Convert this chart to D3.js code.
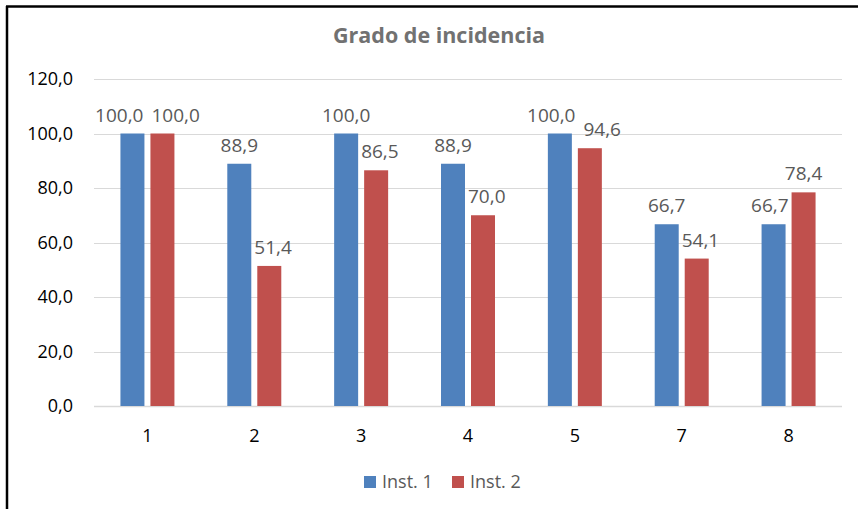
<!DOCTYPE html>
<html>
<head>
<meta charset="utf-8">
<script src="https://cdn.jsdelivr.net/npm/d3@7"></script>
<style>
  body { margin: 0; background: #fff; }
  svg { display: block; font-family: "Open Sans", sans-serif; }
</style>
</head>
<body>
<svg id="chart" width="858" height="509"></svg>
<script>
const width = 858, height = 509;
const svg = d3.select("#chart");

// data
const categories = ["1", "2", "3", "4", "5", "7", "8"];
const seriesNames = ["Inst. 1", "Inst. 2"];
const inst1 = [100.0, 88.9, 100.0, 88.9, 100.0, 66.7, 66.7];
const inst2 = [100.0, 51.4, 86.5, 70.0, 94.6, 54.1, 78.4];
const yTicks = [0, 20, 40, 60, 80, 100, 120];
const colors = ["#4F81BD", "#C0504D"];

const rows = categories.map((c, i) => ({ cat: c, values: [inst1[i], inst2[i]] }));

const fmt = v => d3.format(".1f")(v).replace(".", ",");

// frame (only left and top edges are visible in the crop)
svg.append("line").attr("x1", 7).attr("y1", 6).attr("x2", 7).attr("y2", height)
    .attr("stroke", "#000").attr("stroke-width", 2.5);
svg.append("line").attr("x1", 6).attr("y1", 6.5).attr("x2", width).attr("y2", 6.5)
    .attr("stroke", "#000").attr("stroke-width", 2.5);

// title
svg.append("text")
    .attr("x", 439).attr("y", 43)
    .attr("text-anchor", "middle")
    .attr("font-size", 21.5).attr("font-weight", "bold")
    .attr("fill", "#717171")
    .text("Grado de incidencia");

const x = d3.scaleBand().domain(categories).range([94, 842])
    .paddingInner(0.4947).paddingOuter(0.2474);
const xs = d3.scaleBand().domain(seriesNames).range([0, x.bandwidth()]).paddingInner(0.2);
const y = d3.scaleLinear().domain([0, 120]).range([406, 79]);

// gridlines
svg.append("g").selectAll("line").data(yTicks).enter().append("line")
    .attr("x1", 94).attr("x2", 842)
    .attr("y1", d => Math.round(y(d)) + 0.5).attr("y2", d => Math.round(y(d)) + 0.5)
    .attr("stroke", "#d9d9d9").attr("stroke-width", d => d === 0 ? 1.5 : 1);

// y labels
svg.append("g").selectAll("text").data(yTicks).enter().append("text")
    .attr("x", 73).attr("y", d => y(d))
    .attr("dy", "0.35em")
    .attr("text-anchor", "end")
    .attr("font-size", 18).attr("fill", "#000")
    .text(d => fmt(d));

// x labels
svg.append("g").selectAll("text").data(categories).enter().append("text")
    .attr("x", d => x(d) + x.bandwidth() / 2).attr("y", 442)
    .attr("text-anchor", "middle")
    .attr("font-size", 18).attr("fill", "#000")
    .text(d => d);

// bars
const groups = svg.append("g").selectAll("g").data(rows).enter().append("g")
    .attr("transform", d => `translate(${x(d.cat)},0)`);

groups.selectAll("rect")
    .data(d => d.values.map((v, k) => ({ key: seriesNames[k], v: v, k: k })))
    .enter().append("rect")
    .attr("x", d => xs(d.key))
    .attr("y", d => y(d.v))
    .attr("width", xs.bandwidth())
    .attr("height", d => y(0) - y(d.v))
    .attr("fill", d => colors[d.k]);

// data labels: centred over the bar, nudged outward if they hit
// the other label or the neighbouring bar of the same group
const labelSize = 19, labelH = 14, gap = 3;
groups.each(function(d) {
    const g = d3.select(this);
    const bw = xs.bandwidth();
    const labs = d.values.map((v, k) => ({
        v: v,
        left: xs(seriesNames[k]),
        cx: xs(seriesNames[k]) + bw / 2,
        by: y(v) - 12
    }));
    const texts = g.selectAll("text.lab").data(labs).enter().append("text")
        .attr("class", "lab")
        .attr("text-anchor", "middle")
        .attr("font-size", labelSize).attr("fill", "#595959")
        .text(l => fmt(l.v));
    texts.each(function(l) { l.w = this.getComputedTextLength(); });

    const [a, b] = labs;
    // blue label running into the red bar
    if (a.by > y(b.v) && a.cx + a.w / 2 > b.left - gap) a.cx = b.left - gap - a.w / 2;
    // red label running into the blue bar
    if (b.by > y(a.v) && b.cx - b.w / 2 < a.left + bw + gap) b.cx = a.left + bw + gap + b.w / 2;
    // the two labels running into each other
    const need = (a.w + b.w) / 2 + 8;
    if (Math.abs(a.by - b.by) < labelH + 2 && b.cx - a.cx < need) {
        const push = (need - (b.cx - a.cx)) / 2;
        a.cx -= push; b.cx += push;
    }
    texts.attr("x", l => l.cx).attr("y", l => l.by);
});

// legend
const legendX = [364, 452];
const legend = svg.append("g").selectAll("g").data(seriesNames).enter().append("g")
    .attr("transform", (d, i) => `translate(${legendX[i]},476)`);
legend.append("rect").attr("width", 12).attr("height", 12)
    .attr("fill", (d, i) => colors[i]);
legend.append("text").attr("x", 18).attr("y", 12)
    .attr("font-size", 18).attr("fill", "#595959")
    .text(d => d);
</script>
</body>
</html>
